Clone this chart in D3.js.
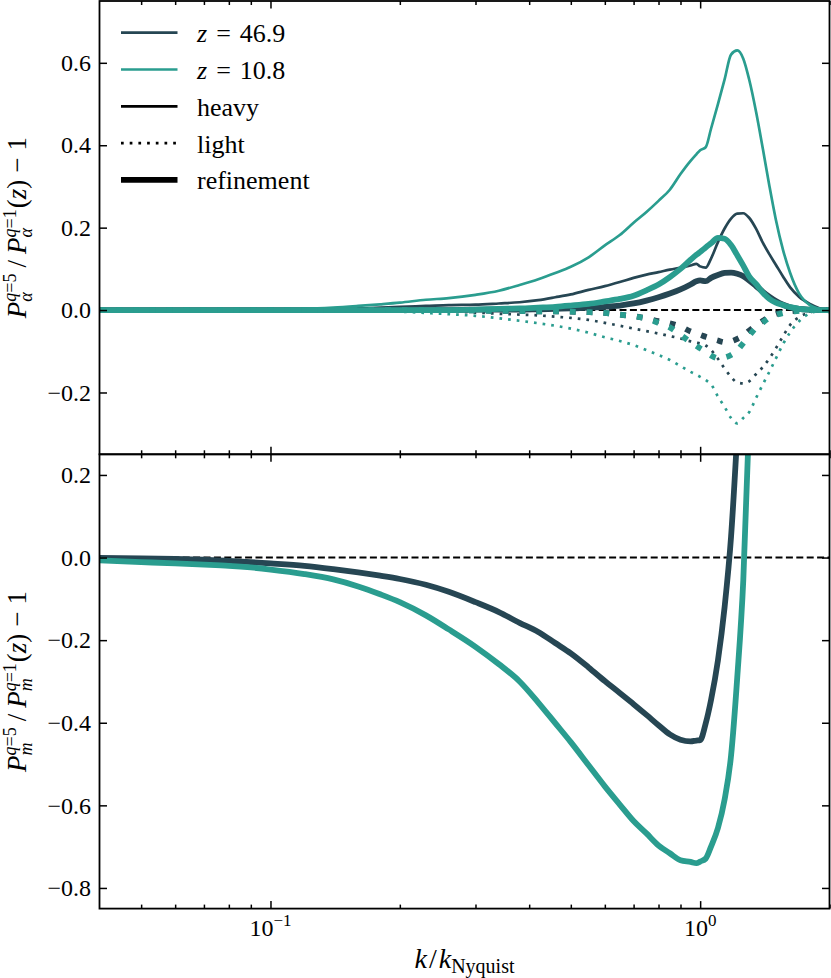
<!DOCTYPE html>
<html>
<head>
<meta charset="utf-8">
<script src="https://cdn.jsdelivr.net/npm/d3@7"></script>
<style>
  body { margin: 0; background: #fff; }
  svg { display: block; }
  svg text { font-family: "Liberation Serif", "Tinos", "Times New Roman", "DejaVu Serif", "Noto Serif", serif; fill: #000; white-space: pre; }
</style>
</head>
<body>
<svg id="chart" width="831" height="978" font-family="Liberation Serif, DejaVu Serif, serif"></svg>
<script>
// ---------------- data ----------------
const kValues = [0.04,0.05,0.06,0.07,0.08,0.09,0.10,0.12,0.14,0.16,0.18,0.20,0.23,0.26,
  0.30,0.34,0.38,0.42,0.46,0.50,0.55,0.60,0.65,0.70,0.75,0.80,0.85,0.90,0.95,0.98,1.00,
  1.03,1.06,1.10,1.14,1.18,1.22,1.26,1.30,1.35,1.40,1.45,1.50,1.56,1.62,1.70,1.80,1.90,2.00];

// top panel: P_alpha ratio, z = 46.9
const heavyZ469 = [0,0,0,0,0,0.001,0.001,0.002,0.003,0.004,0.006,0.008,0.010,0.012,
  0.013,0.016,0.019,0.024,0.031,0.038,0.049,0.058,0.068,0.078,0.086,0.092,0.098,0.103,0.108,0.112,0.106,
  0.103,0.125,0.165,0.198,0.222,0.234,0.235,0.224,0.197,0.163,0.135,0.110,0.081,0.055,0.032,0.015,0.004,-0.004];
const lightZ469 = [0,0,0,0,0,0,0,0,0,0,0,-0.002,-0.003,-0.004,
  -0.006,-0.009,-0.011,-0.013,-0.016,-0.019,-0.024,-0.031,-0.038,-0.045,-0.051,-0.057,-0.063,-0.069,-0.076,-0.079,-0.081,
  -0.086,-0.097,-0.118,-0.142,-0.162,-0.176,-0.178,-0.173,-0.155,-0.138,-0.117,-0.093,-0.063,-0.036,-0.017,-0.006,-0.001,0];
const refHeavyZ469 = [0,0,0,0,0,0,0,0,0,0,0,0,0,0,
  0.001,0.001,0.001,0.002,0.003,0.004,0.006,0.008,0.011,0.016,0.023,0.031,0.040,0.050,0.062,0.070,0.072,
  0.070,0.078,0.085,0.090,0.091,0.088,0.082,0.072,0.058,0.044,0.032,0.022,0.013,0.007,0.003,0.001,0,0];
const refLightZ469 = [0,0,0,0,0,0,0,0,0,0,0,0,0,0,
  -0.001,-0.002,-0.002,-0.003,-0.003,-0.004,-0.005,-0.007,-0.011,-0.015,-0.020,-0.027,-0.032,-0.040,-0.052,-0.057,-0.060,
  -0.065,-0.069,-0.074,-0.078,-0.076,-0.070,-0.062,-0.050,-0.037,-0.026,-0.016,-0.010,-0.005,-0.003,-0.001,0,0,0];

// top panel: P_alpha ratio, z = 10.8
const heavyZ108 = [0,0,0,0,0.001,0.001,0.002,0.003,0.006,0.010,0.014,0.018,0.025,0.029,
  0.037,0.047,0.061,0.075,0.090,0.105,0.128,0.157,0.182,0.212,0.238,0.265,0.292,0.330,0.362,0.378,0.388,
  0.395,0.440,0.500,0.560,0.620,0.630,0.610,0.560,0.480,0.390,0.300,0.220,0.145,0.090,0.040,0.012,0.002,-0.005];
const lightZ108 = [0,0,0,0,0,0,-0.001,-0.001,-0.002,-0.002,-0.003,-0.004,-0.007,-0.010,
  -0.014,-0.020,-0.026,-0.032,-0.038,-0.045,-0.055,-0.066,-0.075,-0.085,-0.097,-0.109,-0.121,-0.136,-0.150,-0.157,-0.162,
  -0.170,-0.180,-0.210,-0.235,-0.262,-0.275,-0.262,-0.248,-0.213,-0.180,-0.149,-0.118,-0.082,-0.054,-0.027,-0.008,-0.002,0];
const refHeavyZ108 = [0,0,0,0,0,0,0,0,0,0,0,0,0,0,
  0.001,0.003,0.004,0.006,0.008,0.011,0.015,0.021,0.027,0.035,0.048,0.062,0.080,0.100,0.122,0.134,0.141,
  0.152,0.162,0.175,0.173,0.158,0.133,0.108,0.082,0.063,0.042,0.027,0.018,0.012,0.007,0.003,0.001,0,0];
const refLightZ108 = [0,0,0,0,0,0,0,0,0,0,0,0,0,0,
  -0.001,-0.002,-0.002,-0.003,-0.003,-0.004,-0.005,-0.007,-0.011,-0.015,-0.021,-0.031,-0.042,-0.060,-0.078,-0.087,-0.093,
  -0.101,-0.110,-0.117,-0.115,-0.109,-0.098,-0.080,-0.063,-0.042,-0.030,-0.018,-0.012,-0.007,-0.004,-0.002,0,0,0];

// bottom panel: P_m ratio (null = outside the drawn range)
const matterZ469 = [-0.001,-0.002,-0.003,-0.005,-0.008,-0.011,-0.014,-0.020,-0.028,-0.036,-0.044,-0.052,-0.066,-0.083,
  -0.108,-0.132,-0.158,-0.180,-0.207,-0.232,-0.266,-0.299,-0.328,-0.355,-0.381,-0.406,-0.428,-0.441,-0.445,-0.443,-0.442,
  -0.402,-0.345,-0.249,-0.120,0.050,0.300,null,null,null,null,null,null,null,null,null,null,null,null];
const matterZ108 = [-0.007,-0.011,-0.014,-0.017,-0.020,-0.024,-0.029,-0.040,-0.053,-0.070,-0.089,-0.108,-0.140,-0.174,
  -0.216,-0.258,-0.300,-0.351,-0.401,-0.447,-0.503,-0.554,-0.598,-0.638,-0.668,-0.697,-0.716,-0.733,-0.737,-0.740,-0.736,
  -0.729,-0.700,-0.655,-0.586,-0.480,-0.290,-0.055,0.330,null,null,null,null,null,null,null,null,null,null];

const redshiftLabels = ["46.9", "10.8"];
const seriesColors = ["#264653", "#2a9d8f"];
const styleLabels = ["heavy", "light", "refinement"];
const xMajorTicks = [0.1, 1];
const xMajorLabels = ["−1", "0"];
const xMinorTicks = [0.05,0.06,0.07,0.08,0.09,0.2,0.3,0.4,0.5,0.6,0.7,0.8,0.9,2];
const topYTicks = [-0.2, 0.0, 0.2, 0.4, 0.6];
const bottomYTicks = [-0.8, -0.6, -0.4, -0.2, 0.0, 0.2];

// ---------------- layout ----------------
const L = 99.5, R = 829.5, T = 1, M = 454.3, B = 908.6;
const THIN = 2.7, THICK = 5.8;
const DOT_THIN = "2.7,6", DOT_THICK = "5.8,11";

const svg = d3.select("#chart");
const x = d3.scaleLog().domain([0.04, 2]).range([L, R]);
const yTop = d3.scaleLinear().domain([-0.35, 0.75]).range([M, T]);
const yBot = d3.scaleLinear().domain([-0.85, 0.25]).range([B, M]);

const defs = svg.append("defs");
defs.append("clipPath").attr("id", "clipTop").append("rect")
  .attr("x", L).attr("y", T).attr("width", R - L).attr("height", M - T);
defs.append("clipPath").attr("id", "clipBot").append("rect")
  .attr("x", L).attr("y", M).attr("width", R - L).attr("height", B - M);

function lineFor(y, vals) {
  return d3.line()
    .defined((d, i) => vals[i] !== null)
    .x((d, i) => x(kValues[i]))
    .y((d, i) => y(vals[i]))
    .curve(d3.curveMonotoneX)(kValues);
}

function drawZero(g, y) {
  g.append("line").attr("x1", L).attr("x2", R).attr("y1", y(0)).attr("y2", y(0))
    .attr("stroke", "#000").attr("stroke-width", 1.9).attr("stroke-dasharray", "7,3.4");
}

// ---------------- top panel ----------------
const gTop = svg.append("g").attr("clip-path", "url(#clipTop)");
drawZero(gTop, yTop);
const topSeries = [
  [heavyZ469, lightZ469, refHeavyZ469, refLightZ469],
  [heavyZ108, lightZ108, refHeavyZ108, refLightZ108]
];
topSeries.forEach((set, zi) => {
  const c = seriesColors[zi];
  const specs = [
    { v: set[0], w: THIN, dash: null },
    { v: set[1], w: THIN, dash: DOT_THIN },
    { v: set[2], w: THICK, dash: null },
    { v: set[3], w: THICK, dash: DOT_THICK }
  ];
  specs.forEach(s => {
    gTop.append("path").attr("d", lineFor(yTop, s.v))
      .attr("fill", "none").attr("stroke", c).attr("stroke-width", s.w)
      .attr("stroke-linejoin", "round")
      .attr("stroke-dasharray", s.dash);
  });
});

// ---------------- bottom panel ----------------
const gBot = svg.append("g").attr("clip-path", "url(#clipBot)");
drawZero(gBot, yBot);
[matterZ469, matterZ108].forEach((v, zi) => {
  gBot.append("path").attr("d", lineFor(yBot, v))
    .attr("fill", "none").attr("stroke", seriesColors[zi]).attr("stroke-width", THICK)
    .attr("stroke-linejoin", "round");
});

// ---------------- axes / ticks ----------------
function ticks(y, yTicks, top, bottom) {
  const g = svg.append("g");
  const put = (axis, tx, ty) => {
    const a = g.append("g").attr("transform", `translate(${tx},${ty})`).call(axis);
    a.select(".domain").remove();
    a.selectAll("line").attr("stroke", "#000").attr("stroke-width", 1.5);
    a.selectAll("text").remove();
  };
  put(d3.axisBottom(x).tickValues(xMajorTicks).tickSize(-7.5), 0, bottom);
  put(d3.axisBottom(x).tickValues(xMinorTicks).tickSize(-4), 0, bottom);
  put(d3.axisTop(x).tickValues(xMajorTicks).tickSize(-7.5), 0, top);
  put(d3.axisTop(x).tickValues(xMinorTicks).tickSize(-4), 0, top);
  put(d3.axisLeft(y).tickValues(yTicks).tickSize(-7.5), L, 0);
  put(d3.axisRight(y).tickValues(yTicks).tickSize(-7.5), R, 0);
  g.append("rect").attr("x", L).attr("y", top).attr("width", R - L).attr("height", bottom - top)
    .attr("fill", "none").attr("stroke", "#000").attr("stroke-width", 1.8);
  const fmt = d3.format(".1f");
  g.selectAll("text.yl").data(yTicks).join("text").attr("class", "yl")
    .attr("x", 91).attr("y", d => y(d) + 8.2).attr("text-anchor", "end")
    .attr("font-size", 24).text(d => fmt(d));
}
ticks(yTop, topYTicks, T, M);
ticks(yBot, bottomYTicks, M, B);

// ---------------- math-like text helper ----------------
function mathText(parent, runs, base) {
  const text = parent.append("text").attr("font-size", base);
  const st = { off: 0, pendingDx: 0 };
  function run(r) {
    const ts = text.append("tspan").text(r.t)
      .attr("font-size", r.fs || base)
      .attr("font-style", r.it ? "italic" : "normal");
    const off = r.off || 0;
    const dy = -(off - st.off);
    if (dy) ts.attr("dy", dy);
    st.off = off;
    const dx = (r.dx || 0) + st.pendingDx;
    st.pendingDx = 0;
    if (dx) ts.attr("dx", dx);
    return ts.node().getComputedTextLength();
  }
  runs.forEach(r => {
    if (r.stack) {
      let wSup = 0, wSub = 0;
      r.sup.forEach((p, i) => { wSup += run(Object.assign({}, p, { fs: r.fs, off: r.up, dx: (i === 0 ? (r.dx || 0) : 0) })); });
      r.sub.forEach((p, i) => { wSub += run(Object.assign({}, p, { fs: r.fs, off: -r.down, dx: (i === 0 ? -wSup : 0) })); });
      if (wSup > wSub) st.pendingDx += wSup - wSub;
    } else {
      run(r);
    }
  });
  return text;
}

// ---------------- y labels ----------------
function yLabel(cy, subSym) {
  const g = svg.append("g").attr("transform", `translate(25.5,${cy}) rotate(-90)`);
  const stack = (n) => ({ stack: true, fs: 18, up: 9.5, down: 6,
    sup: [{ t: "q", it: true }, { t: "=" + n }], sub: [{ t: subSym, it: true }] });
  mathText(g, [
    { t: "P", it: true },
    stack("5"),
    { t: "/", dx: 6 },
    { t: "P", it: true, dx: 6 },
    stack("1"),
    { t: "(" , dx: 1 },
    { t: "z", it: true },
    { t: ")" },
    { t: "−", dx: 7 },
    { t: "1", dx: 7 }
  ], 27).attr("text-anchor", "middle");
}
yLabel((T + M) / 2, "α");
yLabel((M + B) / 2, "m");

// ---------------- x tick labels & x label ----------------
xMajorTicks.forEach((v, i) => {
  const g = svg.append("g").attr("transform", `translate(${x(v)},935.5)`);
  mathText(g, [{ t: "10" }, { t: xMajorLabels[i], fs: 17, off: 10 }], 24).attr("text-anchor", "middle");
});
{
  const g = svg.append("g").attr("transform", `translate(${(L + R) / 2},968)`);
  mathText(g, [
    { t: "k", it: true },
    { t: "/", dx: 2 },
    { t: "k", it: true, dx: 2 },
    { t: "Nyquist", fs: 20, off: -5 }
  ], 28).attr("text-anchor", "middle");
}

// ---------------- legend ----------------
const legendY0 = 32.7, legendDy = 36.8;
const legendItems = [
  { color: seriesColors[0], w: THIN, dash: null, z: redshiftLabels[0] },
  { color: seriesColors[1], w: THIN, dash: null, z: redshiftLabels[1] },
  { color: "#000", w: THIN, dash: null, label: styleLabels[0] },
  { color: "#000", w: THIN, dash: DOT_THIN, label: styleLabels[1] },
  { color: "#000", w: THICK, dash: null, label: styleLabels[2] }
];
legendItems.forEach((it, i) => {
  const y = legendY0 + i * legendDy;
  svg.append("line").attr("x1", 121).attr("x2", 177.5).attr("y1", y).attr("y2", y)
    .attr("stroke", it.color).attr("stroke-width", it.w).attr("stroke-dasharray", it.dash);
  const g = svg.append("g").attr("transform", `translate(197,${y + 9.5})`);
  if (it.z) {
    mathText(g, [{ t: "z", it: true }, { t: "=", dx: 9 }, { t: it.z, dx: 9 }], 26);
  } else {
    g.append("text").attr("font-size", 26).text(it.label);
  }
});
</script>
</body>
</html>
